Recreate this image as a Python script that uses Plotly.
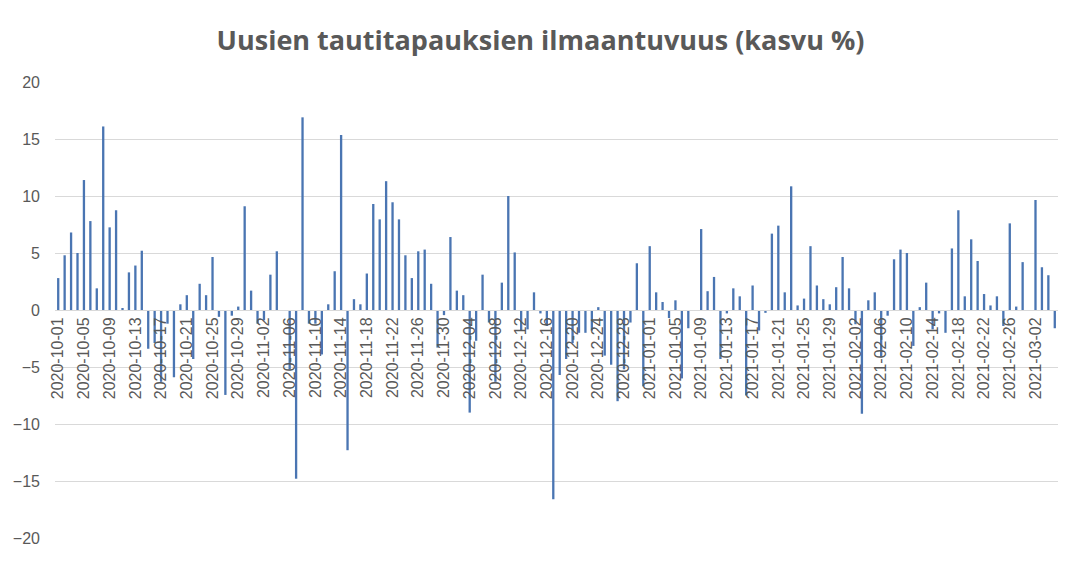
import pandas as pd
import plotly.graph_objects as go

dates = pd.date_range("2020-10-01", "2021-03-05", freq="D").strftime("%Y-%m-%d").tolist()

# Growth % values, Oct 2020
oct_vals = [2.8, 4.8, 6.8, 5.0, 11.4, 7.8, 1.9, 16.1, 7.25, 8.75,
            0.15, 3.3, 3.9, 5.2, -3.4, -2.9, -6.3, -1.2, -5.9, 0.5,
            1.3, -4.3, 2.3, 1.3, 4.65, -0.6, -7.45, -0.5, 0.3, 9.1, 1.7]
nov_vals = [-1.2, -0.9, 3.1, 5.15, 0.0, -5.2, -14.8, 16.9, -1.2, -1.2,
            -3.9, 0.5, 3.4, 15.35, -12.3, 0.95, 0.5, 3.2, 9.3, 7.95,
            11.3, 9.45, 7.95, 4.8, 2.8, 5.15, 5.3, 2.3, -3.3, -0.45]
dec_vals = [6.4, 1.7, 1.3, -9.0, -2.7, 3.1, -1.1, -6.3, 2.4, 10.0,
            5.05, -1.8, -1.7, 1.55, -0.3, -1.4, -16.6, -5.7, -4.3, -2.9,
            -2.0, -2.0, -1.8, 0.25, -4.0, -4.8, -8.0, -5.2, -1.1, 4.1, -6.7]
jan_vals = [5.6, 1.55, 0.7, -0.7, 0.85, -6.0, -1.6, 0.0, 7.1, 1.65,
            2.9, -4.3, -0.3, 1.9, 1.2, -7.5, 2.15, -1.8, -0.25, 6.7,
            7.4, 1.55, 10.85, 0.4, 1.0, 5.6, 2.15, 0.95, 0.5, 2.0, 4.65]
feb_vals = [1.9, -1.25, -9.1, 0.85, 1.55, -4.1, -0.5, 4.45, 5.3, 5.0,
            -3.15, 0.25, 2.4, -1.7, -0.3, -2.0, 5.4, 8.75, 1.2, 6.2,
            4.3, 1.4, 0.4, 1.2, -1.4, 7.6, 0.3, 4.2]
mar_vals = [0.0, 9.65, 3.75, 3.05, -1.6]

values = oct_vals + nov_vals + dec_vals + jan_vals + feb_vals + mar_vals
tick_labels = dates[::4]

title_text = "Uusien tautitapauksien ilmaantuvuus (kasvu %)"

fig = go.Figure(go.Bar(x=dates, y=values, marker_color="#4a75b2",
                       marker_line_width=0))

grey = "#595959"
fig.update_layout(
    width=1081, height=562,
    paper_bgcolor="white", plot_bgcolor="white",
    margin=dict(l=55, r=23, t=82, b=24),
    bargap=0.64,
    showlegend=False,
    title=dict(text="<b>" + title_text + "</b>", x=0.5, xanchor="center",
               y=1 - 41 / 562, yanchor="middle",
               font=dict(family="Open Sans", size=27, color=grey)),
    font=dict(family="Liberation Sans", color=grey),
)
fig.update_xaxes(
    type="category",
    tickmode="array", tickvals=tick_labels, ticktext=tick_labels,
    tickangle=-90, tickfont=dict(size=16, color=grey),
    showgrid=False, showline=True, linecolor="#d9d9d9", linewidth=1,
    anchor="free", position=0.5, ticks="", zeroline=False,
    range=[-0.5, len(dates) - 0.5],
)
fig.update_yaxes(
    range=[-20, 20], dtick=5, tick0=0,
    showgrid=True, gridcolor="#d9d9d9", gridwidth=1,
    zeroline=False, showline=False,
    tickfont=dict(size=16, color=grey), ticklabelstandoff=14,
)

fig.write_html("out.html")
